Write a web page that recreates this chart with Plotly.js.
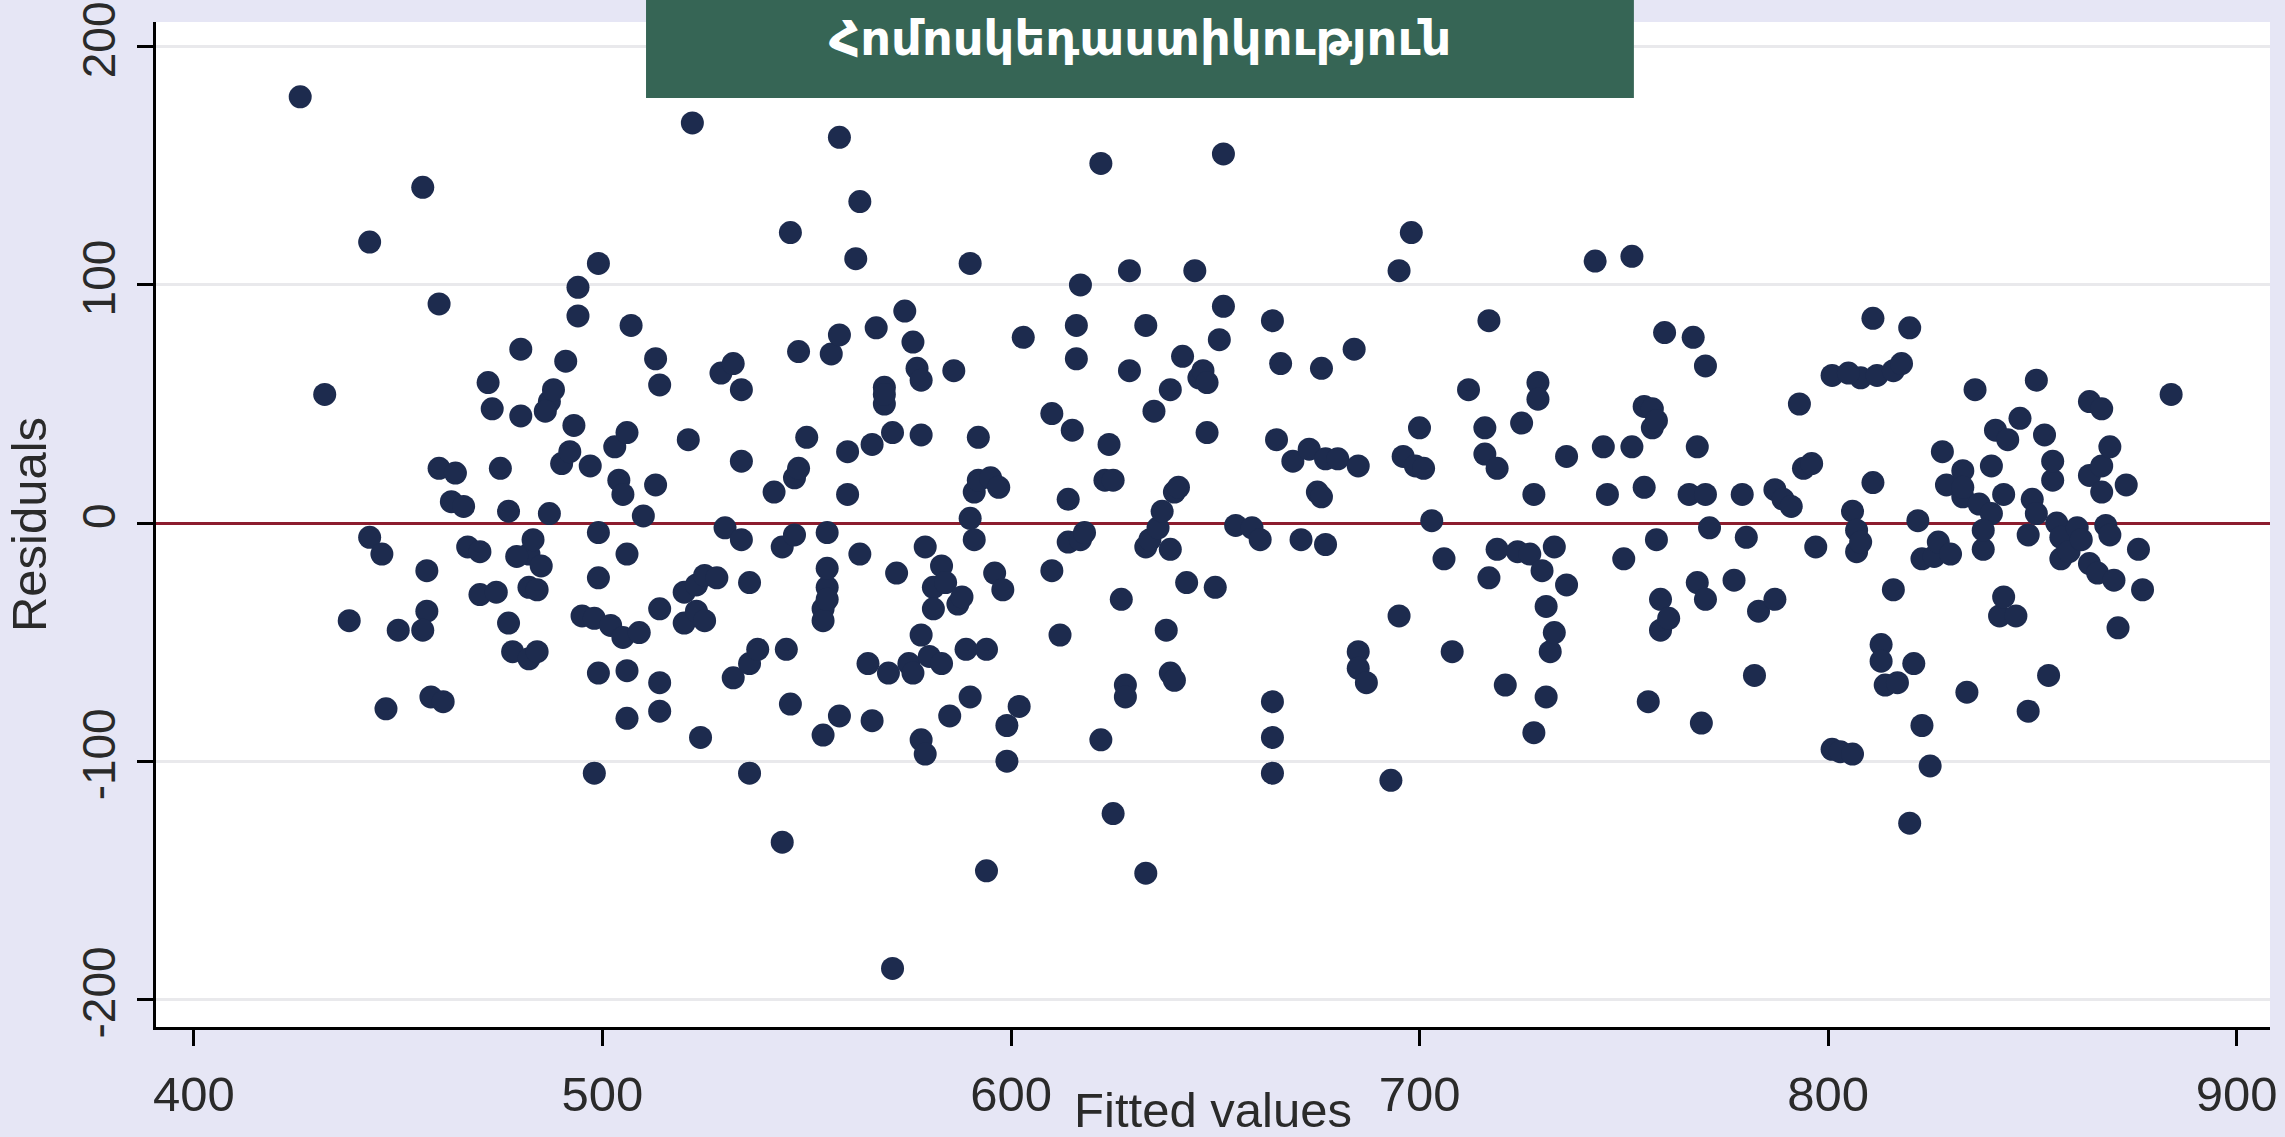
<!DOCTYPE html>
<html>
<head>
<meta charset="utf-8">
<script src="https://cdn.plot.ly/plotly-3.0.1.min.js"></script>
<style>
html,body{margin:0;padding:0;background:#E6E6F5;}
#chart{width:2285px;height:1137px;}
</style>
</head>
<body>
<div id="chart"></div>
<script>
// ---- data ----
const fittedValues = [
426,432,443,438,443,446,447,456,460,450,457,457,456,458,461,460,464,463,466,467,470,472,473,475,470,474,477,478,477,480,
480,482,479,482,484,482,484,483,485,487,486,488,487,490,491,492,493,494,494,497,495,498,498,499,499,499,499,502,503,504,
505,505,506,507,506,506,506,509,510,513,514,513,514,514,514,520,520,521,522,523,523,525,525,524,528,529,532,530,532,534,
534,534,536,536,536,538,542,544,545,546,544,546,547,548,548,550,547,554,554,554,555,555,555,555,556,558,558,558,560,560,
562,563,563,565,566,567,566,569,569,569,570,571,571,572,574,575,576,576,577,578,578,579,578,578,579,581,580,581,583,583,
584,585,586,587,588,589,590,591,590,591,592,590,592,594,595,594,596,597,598,599,599,602,603,610,610,612,614,614,615,617,
616,616,617,618,622,622,623,624,625,625,627,628,628,629,629,633,633,633,634,635,636,637,638,639,639,639,640,641,640,642,
643,645,646,647,648,648,650,651,652,652,655,659,661,664,664,664,664,665,666,669,671,673,675,676,676,677,677,680,684,685,
685,685,687,693,695,695,696,698,699,700,701,703,706,708,712,716,716,717,717,719,719,721,724,725,727,728,728,729,729,730,
731,731,732,733,733,736,736,743,745,746,750,752,752,755,755,756,757,757,758,758,759,759,760,761,766,767,768,768,769,770,
770,770,771,777,779,780,782,783,787,787,789,791,793,794,796,797,801,801,803,806,806,807,807,808,805,808,811,811,812,813,
813,814,816,816,817,818,820,820,821,822,823,823,825,826,827,828,829,830,833,833,833,834,836,837,838,840,840,841,842,843,
843,844,846,847,849,849,850,851,851,853,854,855,855,856,857,857,859,861,862,864,864,864,866,867,867,867,869,868,869,870,
871,873,876,877,884,838
];
const residuals = [
179,54,118,-41,-6,-13,-78,141,92,-45,-20,-37,-45,-73,-75,23,21,9,7,-10,-12,59,48,23,-30,-29,5,-54,-42,73,
45,-13,-14,-27,-28,-57,-54,-7,-18,51,47,56,4,25,68,30,41,99,87,24,-39,-40,-105,109,-23,-4,-63,-43,32,18,
12,-48,38,83,-13,-62,-82,-46,3,69,58,16,-67,-79,-36,-42,-29,35,168,-26,-37,-22,-41,-90,-23,63,67,-2,-65,56,
26,-7,-59,-25,-105,-53,13,-10,-53,-76,-134,122,19,23,72,36,-5,-89,-36,-41,-27,-32,-19,-4,71,162,79,-81,12,30,
111,-13,135,-59,-83,82,33,50,57,54,-63,-187,38,-21,89,-59,76,-63,65,60,-47,-10,37,-91,-97,-27,-56,-36,-18,-59,
-25,-81,64,-34,-31,-53,-73,-7,2,13,36,109,18,-146,19,-53,-21,15,-28,-100,-85,-77,78,46,-20,-47,-8,10,39,100,
83,69,-7,-4,151,-91,18,33,18,-122,-32,-68,-73,106,64,83,-147,-10,-7,47,-2,5,-45,-63,56,-11,13,15,-66,70,
-25,106,61,64,59,38,-27,77,155,91,-1,-2,-7,85,-75,-90,-105,35,67,26,-7,31,13,65,11,27,-9,27,73,24,
-54,-61,-67,-108,106,-39,28,122,24,40,23,1,-15,-54,56,40,29,85,-23,23,-11,-68,-12,42,-13,-88,12,59,52,-20,
-35,-73,-54,-46,-10,28,-26,110,32,12,-15,112,32,49,15,-75,48,40,43,-7,-32,-45,80,-40,12,78,32,-25,-84,66,
12,-32,-2,-24,12,-6,-64,-37,-32,14,10,7,50,23,25,-10,62,-95,-96,-97,5,-3,-12,61,63,-8,86,17,62,-51,
-58,-68,64,-28,-67,67,82,-126,-59,1,-15,-85,-102,-14,-8,30,16,-13,11,22,15,-71,56,8,-11,24,4,39,-39,-31,
12,35,-39,44,-79,-5,10,60,4,37,-64,18,26,0,-6,-15,-12,-2,-7,51,20,-17,-21,48,24,13,32,-1,-5,-24,
-44,16,-11,-28,54,-3
];
const xTickValues = [400, 500, 600, 700, 800, 900];
const yTickValues = [-200, -100, 0, 100, 200];
const chartTitle = 'Հոմոսկեդաստիկություն';
const xTitle = 'Fitted values';
const yTitle = 'Residuals';

const labelFont = {family: '"Liberation Sans", Arial, sans-serif', size: 49, color: '#2a2a2a'};
const yLabelFont = {family: '"Liberation Sans", Arial, sans-serif', size: 46, color: '#2a2a2a'};

const trace = {
  type: 'scatter',
  mode: 'markers',
  x: fittedValues,
  y: residuals,
  marker: {symbol: 'circle', size: 23, color: '#1D2B4E', line: {width: 0}},
  hoverinfo: 'x+y',
  showlegend: false
};

const layout = {
  width: 2285,
  height: 1137,
  paper_bgcolor: '#E6E6F5',
  plot_bgcolor: '#FFFFFF',
  margin: {l: 156, r: 15, t: 22, b: 110, pad: 0},
  font: labelFont,
  xaxis: {
    range: [390.7, 908.2],
    tickvals: xTickValues,
    ticktext: xTickValues.map(String),
    ticks: 'outside', ticklen: 16, tickwidth: 3, tickcolor: '#000',
    showline: true, linecolor: '#000', linewidth: 3, mirror: false,
    showgrid: false, zeroline: false,
    tickfont: labelFont,
    ticklabelstandoff: 6,
    title: {text: xTitle, font: labelFont},
    automargin: false, fixedrange: true
  },
  yaxis: {
    range: [-211.6, 210.4],
    tickvals: yTickValues,
    ticktext: yTickValues.map(String),
    tickangle: -90,
    ticks: 'outside', ticklen: 16, tickwidth: 3, tickcolor: '#000',
    showline: true, linecolor: '#000', linewidth: 3, mirror: false,
    showgrid: true, gridcolor: '#E9E9EC', gridwidth: 3,
    zeroline: true, zerolinecolor: '#8C1D2E', zerolinewidth: 3,
    tickfont: yLabelFont,
    ticklabelstandoff: 4,
    ticklabeloverflow: 'allow',
    title: {text: yTitle, font: labelFont},
    automargin: false, fixedrange: true
  },
  shapes: [
    {type: 'rect', xref: 'paper', x0: 0.2318, x1: 0.6991, yref: 'paper', y0: 0.9244, y1: 1.0219,
     fillcolor: '#366555', line: {width: 0}, layer: 'above'}
  ],
  annotations: [
    {text: '<b>' + chartTitle + '</b>', xref: 'paper', yref: 'paper', x: 0.4655, y: 0.986,
     xanchor: 'center', yanchor: 'middle', showarrow: false,
     font: {family: '"Noto Sans", "DejaVu Sans", sans-serif', size: 48, color: '#FFFFFF'}}
  ]
};

Plotly.newPlot('chart', [trace], layout, {staticPlot: true, displayModeBar: false});
</script>
</body>
</html>
